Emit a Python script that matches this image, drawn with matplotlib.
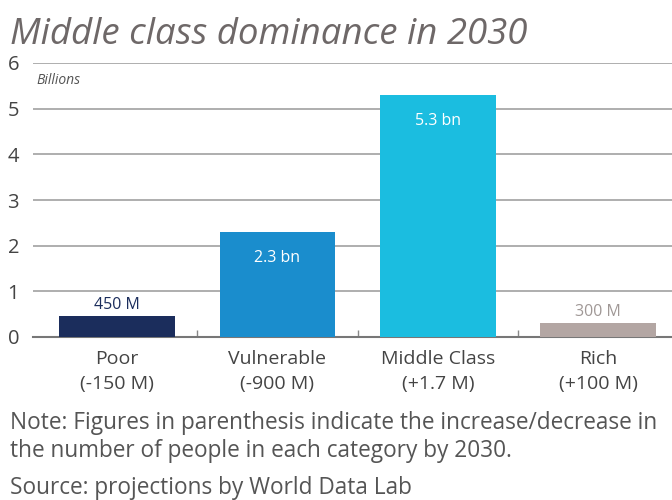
import matplotlib
matplotlib.use("Agg")
import matplotlib.pyplot as plt
from matplotlib.ticker import FixedLocator

categories = ["Poor", "Vulnerable", "Middle Class", "Rich"]
changes = ["(-150 M)", "(-900 M)", "(+1.7 M)", "(+100 M)"]
values = [0.45, 2.3, 5.3, 0.3]
value_labels = ["450 M", "2.3 bn", "5.3 bn", "300 M"]
colors = ["#1b2d5c", "#1a8dcd", "#1bbde0", "#b3a6a3"]
label_colors = ["#1b2d5c", "white", "white", "#a09896"]
label_inside = [False, True, True, False]
yticks = [0, 1, 2, 3, 4, 5, 6]

plt.rcParams['font.family'] = ['Open Sans', 'DejaVu Sans']

fig = plt.figure(figsize=(6.72, 5.0), dpi=100)
ax = fig.add_axes([0.049, 0.326, 0.951, 0.548])

x = list(range(len(categories)))
ax.bar(x, values, width=0.72, color=colors, zorder=3)
for xi, v, lab, lc, inside in zip(x, values, value_labels, label_colors, label_inside):
    if inside:
        ax.text(xi, v - 0.4, lab, ha='center', va='top', color=lc, fontsize=11.5, zorder=4)
    else:
        ax.text(xi, v + 0.07, lab, ha='center', va='bottom', color=lc, fontsize=11.5, zorder=4)

ax.set_xlim(-0.525, 3.46)
ax.set_ylim(0, 6)
ax.set_yticks(yticks)
ax.set_yticklabels([str(t) for t in yticks], fontsize=14.5, color='#444444')
ax.grid(axis='y', color='#a8a8a8', linewidth=1.3, zorder=0)
ax.tick_params(axis='y', length=0, pad=10)
ax.set_xticks(x)
ax.set_xticklabels([f"{c}\n{d}" for c, d in zip(categories, changes)], fontsize=14,
                   color='#444444', linespacing=1.5)
ax.tick_params(axis='x', length=0, pad=9)
ax.xaxis.set_minor_locator(FixedLocator([0.5, 1.5, 2.5]))
ax.tick_params(axis='x', which='minor', direction='in', length=5, color='#888888', width=1)
for s in ['top', 'right', 'left']:
    ax.spines[s].set_visible(False)
ax.spines['bottom'].set_color('#777777')
ax.spines['bottom'].set_linewidth(1.5)

ax.text(0.005, 0.965, "Billions", transform=ax.transAxes, style='italic', fontsize=10,
        color='#555555', va='top', ha='left')

fig.text(0.015, 0.93, "Middle class dominance in 2030", style='italic', fontsize=26.4,
         color='#6e6868', va='center', ha='left')

fig.text(0.015, 0.126, "Note: Figures in parenthesis indicate the increase/decrease in\nthe number of people in each category by 2030.",
         fontsize=16.3, color='#555555', va='center', ha='left', linespacing=1.2)
fig.text(0.015, 0.024, "Source: projections by World Data Lab", fontsize=16.3, color='#555555',
         va='center', ha='left')

fig.savefig("out.png", dpi=100)
